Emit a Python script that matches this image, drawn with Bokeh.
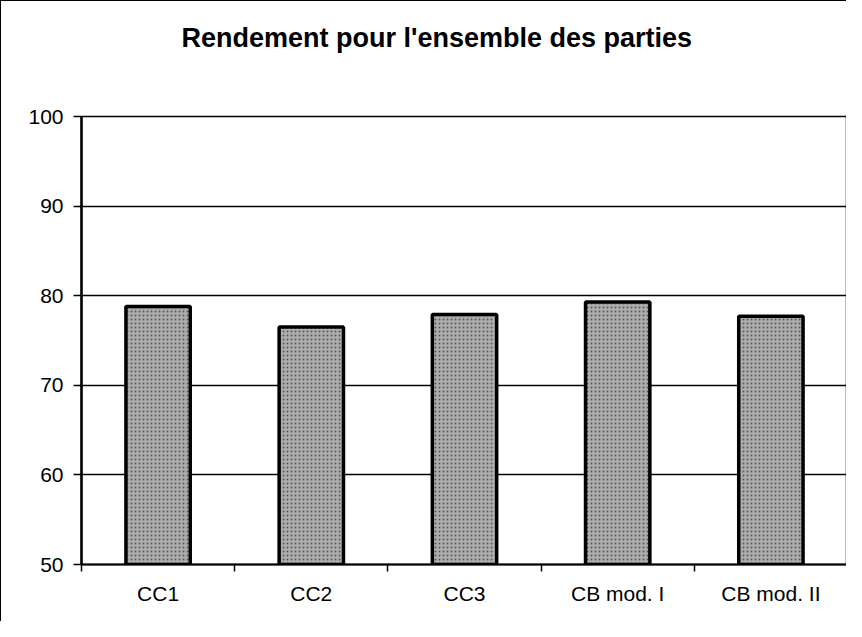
from bokeh.plotting import figure
from bokeh.models import Range1d, FixedTicker, Title
from bokeh.embed import file_html
from bokeh.resources import INLINE

title_text = "Rendement pour l'ensemble des parties"
categories = ["CC1", "CC2", "CC3", "CB mod. I", "CB mod. II"]
values = [78.8, 76.5, 77.9, 79.3, 77.7]
y_ticks = [50, 60, 70, 80, 90, 100]

centers = [i + 0.5 for i in range(len(categories))]
bounds = list(range(len(categories) + 1))

p = figure(width=846, height=621, output_backend="svg", toolbar_location=None,
           x_range=Range1d(0, len(categories)), y_range=Range1d(y_ticks[0], y_ticks[-1]),
           min_border_left=80, min_border_right=0, min_border_top=0, min_border_bottom=58)
p.styles = {"border-left": "1px solid black", "border-top": "1px solid black"}

# spacer title (closest to the frame), then the real title above it
p.add_layout(Title(text=" ", text_font_size="2px", standoff=41), "above")
p.add_layout(Title(text=title_text, align="left", offset=100,
                   text_font="Liberation Sans", text_font_size="27px", text_font_style="bold",
                   text_color="black", standoff=38), "above")

p.vbar(x=centers, top=values, bottom=y_ticks[0], width=0.42,
       fill_color="#adadad", line_color="black", line_width=3.5,
       hatch_pattern="dot", hatch_color="#444444", hatch_scale=4, hatch_weight=1.2, hatch_alpha=0.8)

p.outline_line_color = "black"
p.outline_line_width = 1.5

p.xgrid.visible = False
p.ygrid.ticker = FixedTicker(ticks=y_ticks)
p.ygrid.grid_line_color = "black"
p.ygrid.grid_line_width = 1.5

xa = p.xaxis[0]
xa.ticker = FixedTicker(ticks=centers, minor_ticks=bounds)
xa.major_label_overrides = {c: lab for c, lab in zip(centers, categories)}
xa.major_tick_line_color = None
xa.minor_tick_line_color = "black"
xa.minor_tick_out = 7
xa.minor_tick_in = 0
xa.minor_tick_line_width = 1.5
xa.axis_line_color = "black"
xa.axis_line_width = 2
xa.major_label_standoff = 10
xa.major_label_text_font = "Liberation Sans"
xa.major_label_text_font_size = "21px"
xa.major_label_text_color = "black"

ya = p.yaxis[0]
ya.ticker = FixedTicker(ticks=y_ticks, minor_ticks=[])
ya.major_tick_out = 8
ya.major_tick_in = 0
ya.major_tick_line_color = "black"
ya.major_tick_line_width = 1.5
ya.minor_tick_line_color = None
ya.axis_line_color = "black"
ya.axis_line_width = 2.5
ya.major_label_standoff = 10
ya.major_label_text_font = "Liberation Sans"
ya.major_label_text_font_size = "21px"
ya.major_label_text_color = "black"

open("out.html", "w").write(file_html(p, INLINE))
